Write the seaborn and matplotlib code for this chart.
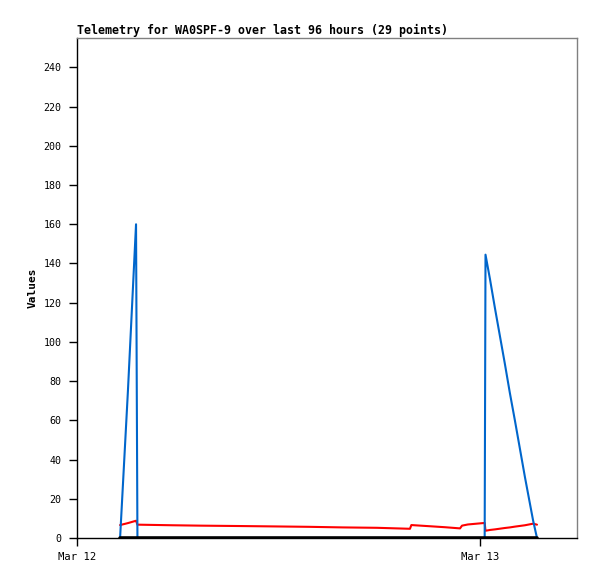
import pandas as pd
import matplotlib
matplotlib.use("Agg")
import matplotlib.pyplot as plt
import matplotlib.dates as mdates
import seaborn as sns

# Telemetry samples (29 points)
times = ["2024-03-12 02:34", "2024-03-12 03:02", "2024-03-12 03:31", "2024-03-12 03:36",
         "2024-03-12 05:40", "2024-03-12 07:21", "2024-03-12 09:43", "2024-03-12 11:48",
         "2024-03-12 13:49", "2024-03-12 15:50", "2024-03-12 17:52", "2024-03-12 19:50",
         "2024-03-12 19:55", "2024-03-12 21:01", "2024-03-12 21:55", "2024-03-12 22:49",
         "2024-03-12 22:56", "2024-03-12 23:17", "2024-03-13 00:11", "2024-03-13 00:17",
         "2024-03-13 00:20", "2024-03-13 00:36", "2024-03-13 00:54", "2024-03-13 01:29",
         "2024-03-13 01:47", "2024-03-13 02:05", "2024-03-13 02:41", "2024-03-13 03:10",
         "2024-03-13 03:24"]
red_vals = [6.6, 7.6, 8.8, 6.8, 6.5, 6.3, 6.1, 5.9, 5.7, 5.4, 5.2, 4.7, 6.6, 6.0, 5.5,
            4.9, 6.3, 6.9, 7.6, 7.7, 3.7, 4.1, 4.4, 5.1, 5.4, 5.8, 6.5, 7.3, 6.8]
blue_vals = [0, 75, 160, 0, 0, 0, 0, 0, 0, 0, 0, 0, 0, 0, 0, 0, 0, 0, 0, 0,
             144.5, 132, 117, 89, 74, 60, 31, 9, 0]
black_vals = [0] * 29

df = pd.DataFrame({
    "time": pd.to_datetime(times),
    "red": red_vals,
    "blue": blue_vals,
    "black": black_vals,
})

sns.set_style("white")
plt.rcParams["font.family"] = ["DejaVu Sans Mono"]
plt.rcParams["text.color"] = "black"
plt.rcParams["axes.labelcolor"] = "black"
plt.rcParams["xtick.color"] = "black"
plt.rcParams["ytick.color"] = "black"

fig = plt.figure(figsize=(5.97, 5.79), dpi=100)
ax = fig.add_axes([77 / 597, 41 / 579, 500 / 597, 500 / 579])

sns.lineplot(data=df, x="time", y="red", color="#ff0000", linewidth=1.5, ax=ax)
sns.lineplot(data=df, x="time", y="blue", color="#0066cc", linewidth=1.5, ax=ax)
sns.lineplot(data=df, x="time", y="black", color="#000000", linewidth=2.6, ax=ax)

ax.set_xlim(pd.Timestamp("2024-03-12 00:00"), pd.Timestamp("2024-03-13 05:47"))
ax.set_ylim(0, 255)
ax.set_yticks(range(0, 241, 20))
ax.xaxis.set_major_locator(mdates.DayLocator())
ax.xaxis.set_major_formatter(mdates.DateFormatter("%b %d"))

ax.tick_params(axis="y", direction="out", length=6, width=1, labelsize=7.2,
               left=True, pad=5)
ax.tick_params(axis="x", direction="out", length=6, width=1, labelsize=7.6,
               bottom=True, pad=4)
ax.set_xlabel("")
ax.set_ylabel("Values", fontsize=8, fontweight="bold", labelpad=4)

for side in ["left", "bottom"]:
    ax.spines[side].set_color("black")
    ax.spines[side].set_linewidth(1)
for side in ["top", "right"]:
    ax.spines[side].set_color("#808080")
    ax.spines[side].set_linewidth(1)

ax.set_title("Telemetry for WA0SPF-9 over last 96 hours (29 points)",
             loc="left", fontsize=8.4, fontweight="bold", pad=3)

fig.savefig("out.png", dpi=100)
